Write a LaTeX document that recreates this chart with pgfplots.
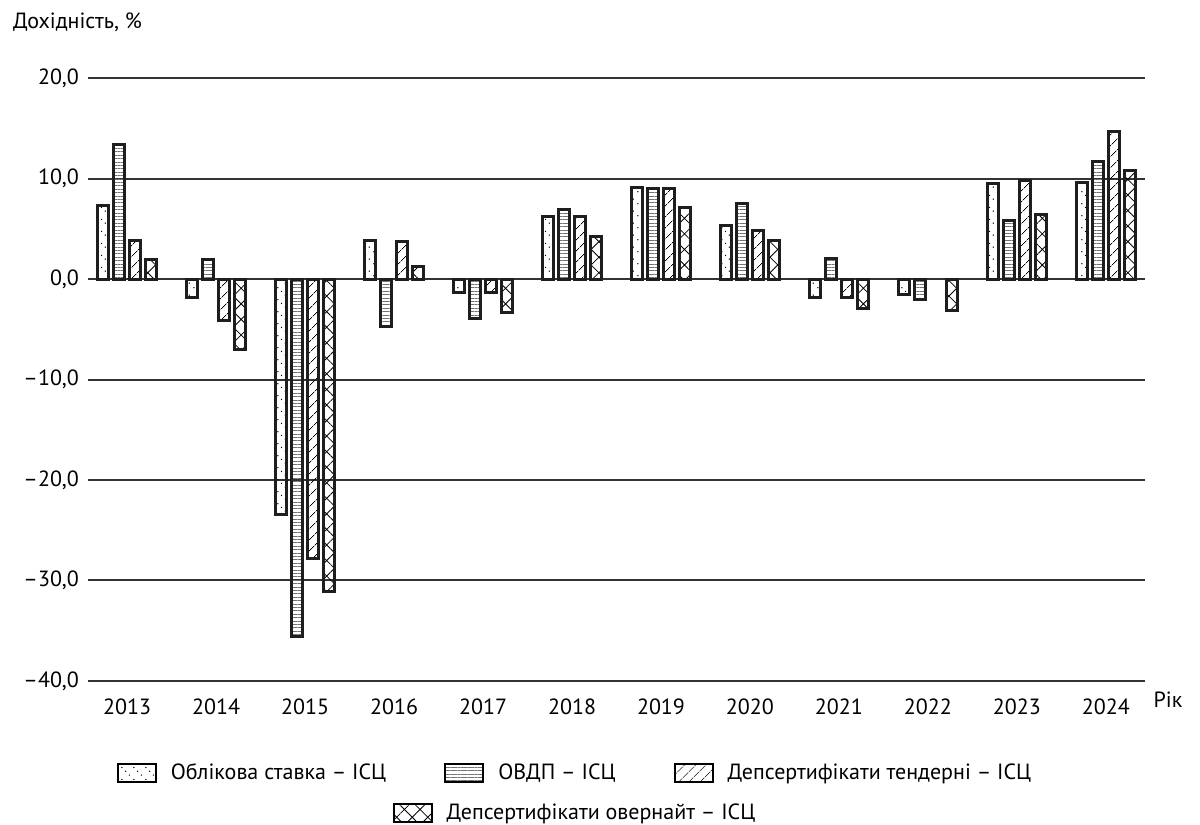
\documentclass[border=0pt]{standalone}
\usepackage{fontspec}
\setmainfont{PT Sans}
\usepackage{pgfplots}
\usepackage{pgfplotstable}
\pgfplotsset{compat=1.18}
\usetikzlibrary{patterns,patterns.meta}

% dotted diagonal hatching (first series)
\tikzdeclarepattern{
  name=diagdots,
  type=uncolored,
  bounding box={(0pt,0pt) and (6pt,6pt)},
  tile size={(6pt,6pt)},
  code={
    \fill (1pt,5pt) circle (0.38pt);
    \fill (3pt,3pt) circle (0.38pt);
    \fill (5pt,1pt) circle (0.38pt);
  }
}

\pgfplotstableread{
x obl ovdp tend over
0   7.3  13.4   3.8   1.9
1  -1.8   1.9  -4.1  -7.0
2 -23.4 -35.6 -27.8 -31.1
3   3.8  -4.7   3.7   1.2
4  -1.3  -3.9  -1.3  -3.3
5   6.2   6.9   6.2   4.2
6   9.1   9.0   9.0   7.1
7   5.3   7.5   4.8   3.8
8  -1.8   2.0  -1.8  -2.9
9  -1.5  -2.0   nan  -3.1
10  9.5   5.8   9.8   6.4
11  9.6  11.7  14.7  10.8
}\datatable

\definecolor{barline}{HTML}{1E1E1E}
\definecolor{gridc}{HTML}{333333}

\pgfplotsset{
  boxlegend/.style={
    legend image code/.code={
      \draw[##1,draw=black,line width=1pt] (0pt,-4.5pt) rectangle (19pt,4.5pt);
    },
  },
  s1/.style={draw=barline, line width=1.5pt, fill=white, pattern=diagdots, pattern color=black},
  s2/.style={draw=barline, line width=1.5pt, fill=white, pattern={Lines[angle=0,distance=1.7pt,line width=0.45pt]}, pattern color=black!55},
  s3/.style={draw=barline, line width=1.5pt, fill=white, pattern={Lines[angle=45,distance=4pt,line width=0.4pt]}, pattern color=black},
  s4/.style={draw=barline, line width=1.5pt, fill=white, pattern={Hatch[angle=45,distance=5.5pt,line width=0.4pt]}, pattern color=black},
}

\begin{document}
\begin{tikzpicture}
\useasboundingbox (0pt,0pt) rectangle (600pt,412.5pt);

\begin{axis}[
    at={(44pt,72pt)}, anchor=south west,
    scale only axis,
    width=528.5pt, height=301.5pt,
    ybar=2.3pt, bar width=5.7pt,
    xmin=-0.44, xmax=11.44,
    ymin=-40, ymax=20,
    xtick={0,...,11},
    xticklabels={2013,2014,2015,2016,2017,2018,2019,2020,2021,2022,2023,2024},
    ytick={-40,-30,-20,-10,0,10,20},
    yticklabels={{–40,0},{–30,0},{–20,0},{–10,0},{0,0},{10,0},{20,0}},
    ymajorgrids,
    grid style={draw=gridc, line width=1pt},
    axis line style={draw=none},
    tick style={draw=none},
    ticklabel style={font=\fontsize{11}{13}\selectfont},
    xticklabel style={yshift=-1pt},
    yticklabel style={xshift=-1pt},
    boxlegend,
    legend columns=3,
    legend style={
      at={(rel axis cs:0.4617,-0.1526)}, anchor=center,
      draw=none, fill=none,
      font=\fontsize{11}{13}\selectfont,
      /tikz/every odd column/.append style={column sep=5pt},
      /tikz/every even column/.append style={column sep=27pt},
    },
    legend cell align=left,
  ]
  \addplot[s1] table[x=x,y=obl] {\datatable};
  \addlegendentry{Облікова ставка – ІСЦ}
  \addplot[s2] table[x=x,y=ovdp] {\datatable};
  \addlegendentry{ОВДП – ІСЦ}
  \addplot[s3] table[x=x,y=tend] {\datatable};
  \addlegendentry{Депсертифікати тендерні – ІСЦ}
  \addplot[s4] table[x=x,y=over] {\datatable};
\end{axis}

\begin{axis}[
    at={(44pt,72pt)}, anchor=south west,
    scale only axis,
    width=528.5pt, height=301.5pt,
    xmin=0, xmax=1, ymin=0, ymax=1,
    hide axis,
    boxlegend,
    legend style={
      at={(rel axis cs:0.4617,-0.219)}, anchor=center,
      draw=none, fill=none,
      font=\fontsize{11}{13}\selectfont,
      /tikz/every odd column/.append style={column sep=5pt},
    },
  ]
  \addlegendimage{s4}
  \addlegendentry{Депсертифікати овернайт – ІСЦ}
\end{axis}

\node[anchor=west, font=\fontsize{11}{13}\selectfont] at (3pt,401.5pt) {Дохідність, \%};
\node[font=\fontsize{11}{13}\selectfont] at (584pt,62.5pt) {Рік};
\end{tikzpicture}
\end{document}
